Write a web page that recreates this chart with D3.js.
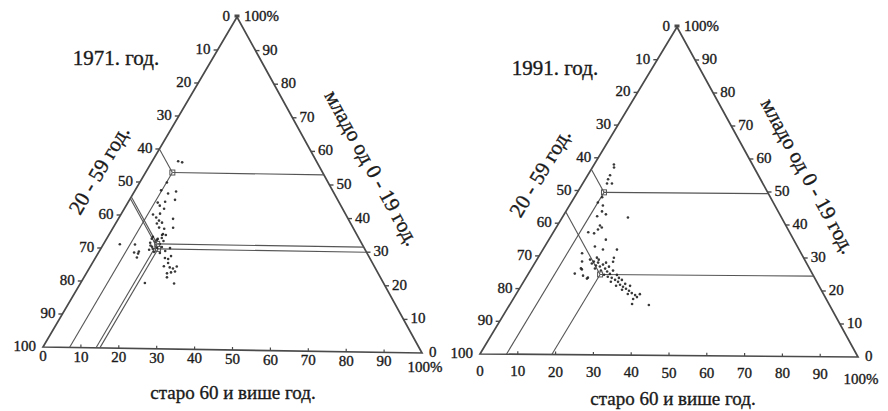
<!DOCTYPE html>
<html><head><meta charset="utf-8">
<script src="https://cdn.jsdelivr.net/npm/d3@7"></script>
<style>html,body{margin:0;padding:0;background:#fff;}svg{display:block;}</style>
</head><body>
<svg id="c" width="888" height="411"></svg>
<script>
// ---- data ----
const titles = ["1971. год.", "1991. год."];
const axisTitleMiddle = "20 - 59 год.";
const axisTitleYoung = "младо од 0 - 19 год.";
const axisTitleOld = "старо 60 и више год.";
const tickValues = [0,10,20,30,40,50,60,70,80,90,100];

// 1971: municipalities, share young (0-19) and old (60+), %
const young1971 = [56.4,56.1,50.0,47.6,46.7,44.8,43.9,43.0,42.1,44.2,40.3,40.6,39.4,38.5,37.9,37.6,36.4,34.2,34.2,33.3,33.0,33.0,31.2,31.2,29.1,28.8,28.5,27.3,31.8,32.1,31.5,30.6,30.3,30.6,29.7,29.1,28.8,29.4,32.7,33.6,30.3,27.3,27.0,24.8,24.5,24.2,24.8,22.7,23.0,23.3,21.5,19.7,19.7,47.3,36.1,36.4,39.1,34.5,27.9,25.8,31.0,30.0,32.4];
const old1971   = [6.8,8.0,7.1,6.8,9.1,11.9,7.8,8.8,10.4,9.6,8.4,10.1,9.7,10.9,12.0,10.8,15.7,13.9,14.9,14.3,13.4,11.8,4.3,8.3,10.4,9.3,10.5,10.8,12.0,13.1,14.7,13.1,14.6,15.7,12.8,14.4,16.1,17.2,13.3,11.8,18.0,18.2,19.2,19.2,20.9,21.9,22.6,21.1,22.0,22.9,21.7,16.8,24.5,10.9,13.5,12.0,14.3,14.0,19.5,19.8,12.5,13.6,15.2];
// 1971 reading points (young, old)
const refYoung1971 = [53, 31.5, 30];
const refOld1971   = [7, 14, 15];

// 1991
const young1991 = [58.0,57.1,54.7,53.5,52.2,52.2,48.0,46.4,45.5,43.7,42.8,42.2,41.9,39.4,38.8,38.2,37.3,37.0,35.1,33.0,32.1,32.1,30.9,29.6,28.4,28.4,24.7,26.0,24.1,23.5,15.6,15.3,18.6,26.3,23.2,
  29.0,28.4,28.1,27.2,26.9,27.5,26.3,25.7,25.4,24.7,24.4,23.8,23.5,22.9,22.3,22.3,21.4,21.1,20.8,20.2,19.9,19.6,18.9,18.6,18.3,17.7,17.1,21.7,23.5,25.7,29.0,26.3,28.1,26.9,24.4,22.9,21.1,27.8,29.6];
const old1991   = [5.2,5.7,5.9,6.0,6.4,7.7,7.3,7.0,8.8,9.5,11.0,9.0,17.3,11.2,12.0,11.3,9.2,10.9,15.0,13.2,19.5,15.8,10.9,20.0,20.4,12.2,12.2,13.4,14.7,16.3,32.1,36.7,32.6,13.0,16.2,
  14.0,15.3,16.6,16.5,17.7,18.2,19.4,18.6,20.4,21.5,20.1,21.4,22.6,23.8,23.0,24.9,25.9,25.0,27.0,28.1,27.2,29.2,30.3,29.4,31.5,32.3,31.6,27.1,24.5,21.8,16.3,16.7,18.7,20.1,23.5,25.6,28.7,15.1,15.5];
const refYoung1991 = [49.5, 24.5];
const refOld1991   = [7, 19];

// ---- layout ----
const panels = [
  {title: titles[0], A:[237,17], BL:[43,347], BR:[422,353], titlePos:[116,58],
   leftTitle:[99,170], rightTitle:[372,168], bottomTitle:[233,392], bDy:9,
   young: young1971, old: old1971, refY: refYoung1971, refO: refOld1971},
  {title: titles[1], A:[677,27], BL:[480,354], BR:[858,357], titlePos:[555,68],
   leftTitle:[540,173], rightTitle:[808,176], bottomTitle:[673,398], bDy:17,
   young: young1991, old: old1991, refY: refYoung1991, refO: refOld1991}
];

const svg = d3.select("#c");
const FONT = "'Liberation Serif', 'Times New Roman', serif";
const ink = "#1a1a1a", edge = "#4a4a4a", ref = "#555";

panels.forEach(p => {
  const g = svg.append("g");
  // barycentric scales
  const oX = d3.scaleLinear().domain([0,100]).range([0, p.BR[0]-p.BL[0]]);
  const oY = d3.scaleLinear().domain([0,100]).range([0, p.BR[1]-p.BL[1]]);
  const yX = d3.scaleLinear().domain([0,100]).range([0, p.A[0]-p.BL[0]]);
  const yY = d3.scaleLinear().domain([0,100]).range([0, p.A[1]-p.BL[1]]);
  const pos = (yv, ov) => [p.BL[0] + oX(ov) + yX(yv), p.BL[1] + oY(ov) + yY(yv)];
  const line = d3.line();

  // triangle
  g.append("path").attr("d", line([pos(100,0), pos(0,0), pos(0,100)]) + "Z")
    .attr("fill","none").attr("stroke", edge).attr("stroke-width",1.7).attr("stroke-linejoin","miter");

  // reading lines
  p.refY.forEach((yv,i) => {
    const ov = p.refO[i];
    const pt = pos(yv, ov);
    [pos(yv, 100-yv), pos(0, ov), pos(yv+ov, 0)].forEach(e => {
      g.append("path").attr("d", line([pt, e])).attr("stroke", ref).attr("stroke-width",1.1).attr("fill","none");
    });
  });

  // ticks
  tickValues.forEach(v => {
    if (v>0 && v<100) {
      const L = pos(100-v, 0);
      g.append("path").attr("d", line([[L[0]-4,L[1]],[L[0],L[1]]])).attr("stroke",edge).attr("stroke-width",1.4);
      const R = pos(v, 100-v);
      g.append("path").attr("d", line([[R[0],R[1]],[R[0]+4,R[1]]])).attr("stroke",edge).attr("stroke-width",1.4);
      const B = pos(0, v);
      g.append("path").attr("d", line([[B[0],B[1]-3],[B[0],B[1]]])).attr("stroke",edge).attr("stroke-width",1.2);
    }
  });
  // apex marker
  g.append("rect").attr("x", p.A[0]-2.5).attr("y", p.A[1]-2.5).attr("width",5).attr("height",3).attr("fill",edge);

  const lab = (x,y,t,anchor,size) => g.append("text").attr("x",x).attr("y",y).text(t)
      .attr("text-anchor",anchor).attr("dominant-baseline","central")
      .attr("font-family",FONT).attr("font-size",size||15).attr("fill",ink)
      .attr("stroke",ink).attr("stroke-width",0.35);

  tickValues.forEach(v => {
    const L = pos(100-v, 0);
    lab(L[0]-7, L[1]-1, String(v), "end");
    const R = pos(v, 100-v);
    lab(R[0]+7, R[1]-1, v===100 ? "100%" : String(v), "start");
    const B = pos(0, v);
    lab(B[0]+(v===100?3:0), B[1]+p.bDy+(v===100?5:0), v===100 ? "100%" : String(v), "middle");
  });

  // points
  g.selectAll("circle.pt").data(p.young.map((yv,i)=>[yv,p.old[i]])).join("circle")
    .attr("class","pt").attr("cx", d=>pos(d[0],d[1])[0]).attr("cy", d=>pos(d[0],d[1])[1])
    .attr("r",1.3).attr("fill","#222").attr("opacity",0.9);

  // reading-point markers
  p.refY.forEach((yv,i) => {
    const pt = pos(yv, p.refO[i]);
    g.append("rect").attr("x",pt[0]-2.5).attr("y",pt[1]-2.5).attr("width",5).attr("height",5)
      .attr("fill","none").attr("stroke","#555").attr("stroke-width",1);
  });

  // titles
  lab(p.titlePos[0], p.titlePos[1], p.title, "middle", 21);
  const angL = Math.atan2(p.A[1]-p.BL[1], p.A[0]-p.BL[0]) * 180/Math.PI;
  const angR = Math.atan2(p.BR[1]-p.A[1], p.BR[0]-p.A[0]) * 180/Math.PI;
  g.append("text").attr("transform",`translate(${p.leftTitle[0]},${p.leftTitle[1]}) rotate(${angL})`)
    .attr("text-anchor","middle").attr("dominant-baseline","central")
    .attr("font-family",FONT).attr("font-size",21).attr("fill",ink).attr("stroke",ink).attr("stroke-width",0.35).text(axisTitleMiddle);
  g.append("text").attr("transform",`translate(${p.rightTitle[0]},${p.rightTitle[1]}) rotate(${angR})`)
    .attr("text-anchor","middle").attr("dominant-baseline","central")
    .attr("font-family",FONT).attr("font-size",21).attr("fill",ink).attr("stroke",ink).attr("stroke-width",0.35).text(axisTitleYoung);
  lab(p.bottomTitle[0], p.bottomTitle[1], axisTitleOld, "middle", 19);
});
</script>
</body></html>
